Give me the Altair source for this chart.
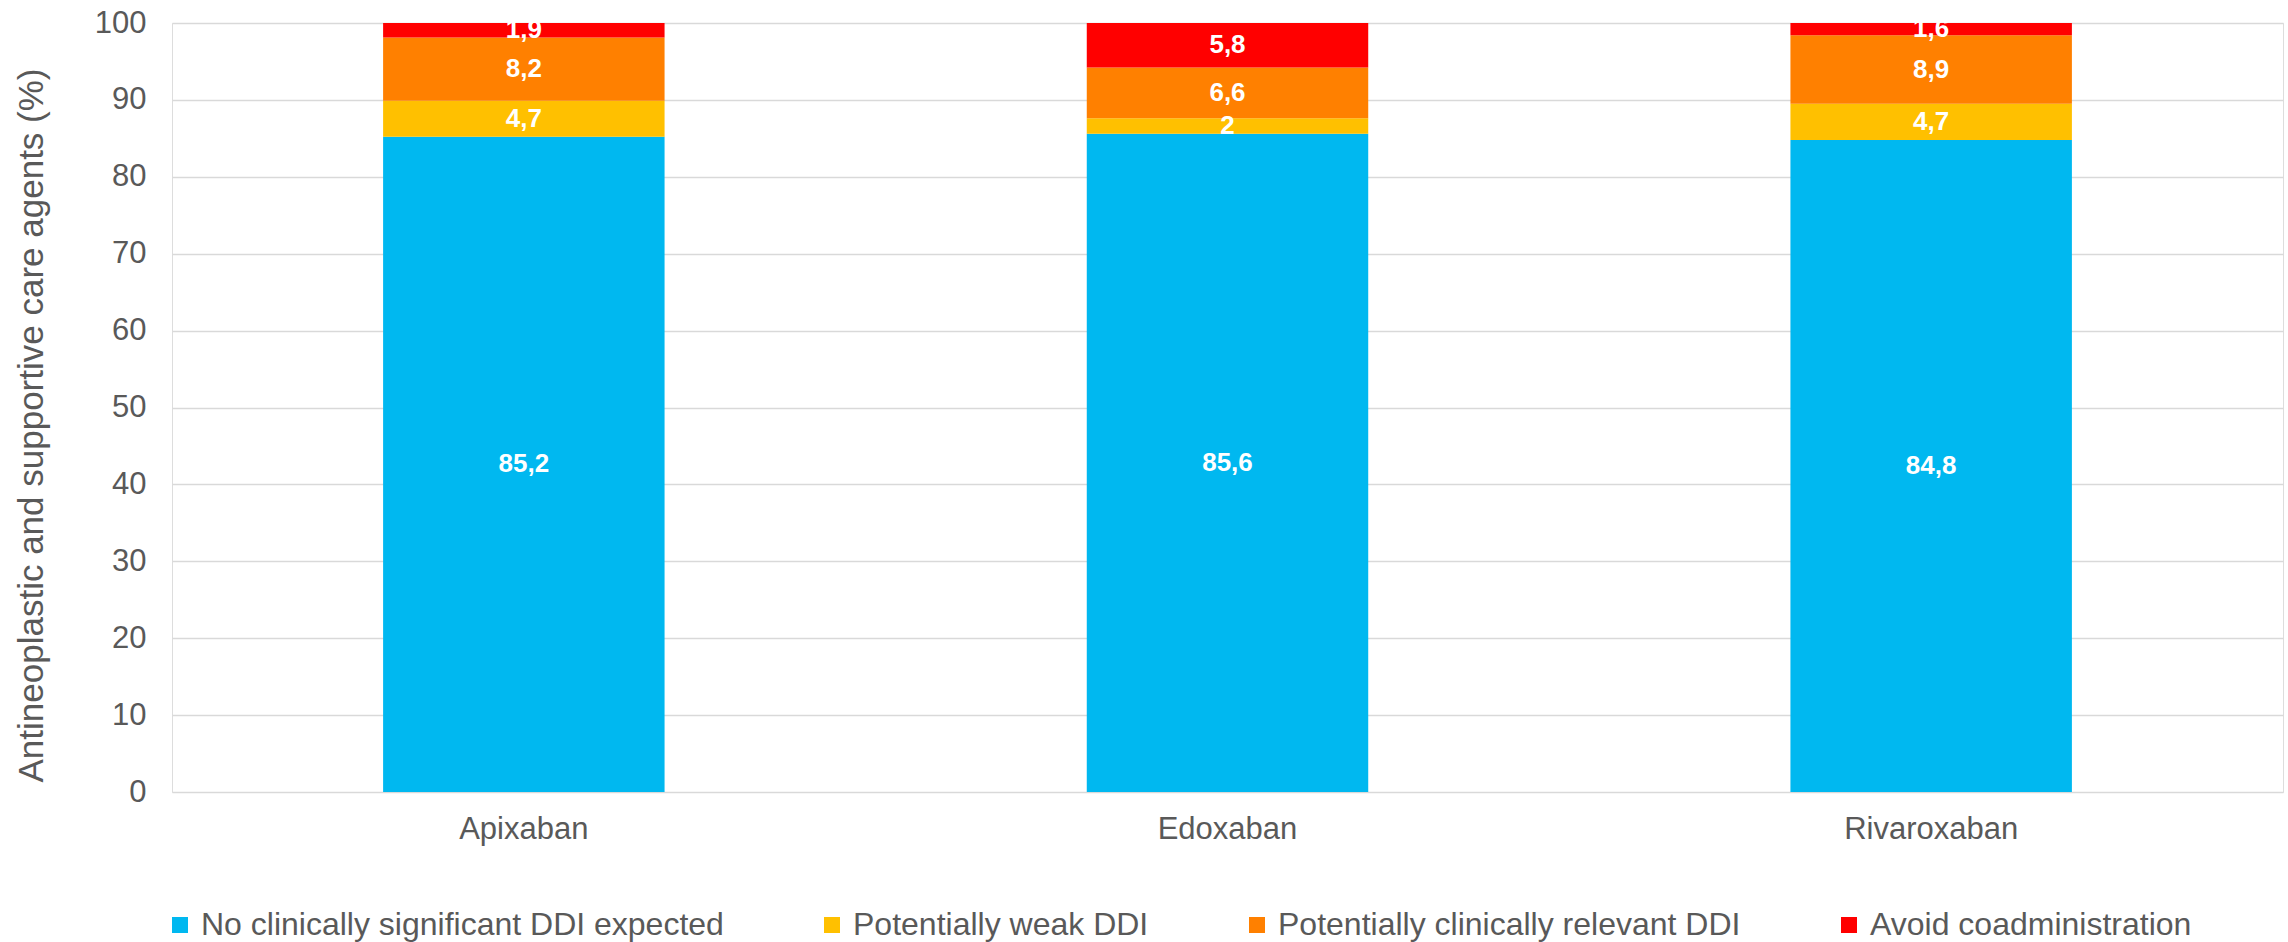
import altair as alt
import pandas as pd

drugs = ["Apixaban", "Edoxaban", "Rivaroxaban"]
categories = [
    "No clinically significant DDI expected",
    "Potentially weak DDI",
    "Potentially clinically relevant DDI",
    "Avoid coadministration",
]
colors = ["#00B8F0", "#FFC000", "#FF8000", "#FF0000"]
no_ddi = [85.2, 85.6, 84.8]
weak = [4.7, 2.0, 4.7]
relevant = [8.2, 6.6, 8.9]
avoid = [1.9, 5.8, 1.6]
labels = {
    0: ["85,2", "85,6", "84,8"],
    1: ["4,7", "2", "4,7"],
    2: ["8,2", "6,6", "8,9"],
    3: ["1,9", "5,8", "1,6"],
}

rows = []
for ci, series in enumerate([no_ddi, weak, relevant, avoid]):
    for di, d in enumerate(drugs):
        rows.append({"drug": d, "category": categories[ci], "order": ci,
                     "value": series[di], "label": labels[ci][di]})
df = pd.DataFrame(rows)

FONT = "Liberation Sans"
GRAY = "#595959"

x_enc = alt.X("drug:N", sort=drugs,
              scale=alt.Scale(paddingInner=0.6, paddingOuter=0.3),
              axis=alt.Axis(title=None, labelAngle=0, labelFontSize=31, labelColor=GRAY,
                            labelFont=FONT, ticks=False, domain=False, labelPadding=22,
                            grid=False))

base = alt.Chart(df).transform_stack(
    stack="value", as_=["y0", "y1"], groupby=["drug"],
    sort=[alt.SortField("order", order="ascending")]
)

bars = base.mark_bar().encode(
    x=x_enc,
    y=alt.Y("y0:Q", scale=alt.Scale(domain=[0, 100], nice=False),
            axis=alt.Axis(title="Antineoplastic and supportive care agents (%)",
                          values=list(range(0, 101, 10)), labelFontSize=31,
                          labelColor=GRAY, labelFont=FONT, ticks=False, domain=False,
                          labelPadding=26, gridColor="#D9D9D9", gridWidth=1.5,
                          titleFont=FONT, titleFontSize=35, titleColor=GRAY,
                          titleFontWeight="normal", titleAngle=270,
                          titleX=-141, titleY=402, titleAlign="center",
                          titleBaseline="middle")),
    y2="y1:Q",
    color=alt.Color("category:N", sort=categories,
                    scale=alt.Scale(domain=categories, range=colors),
                    legend=alt.Legend(title=None, orient="none", legendX=-8, legendY=886,
                                      direction="horizontal", columns=4,
                                      symbolType="square", symbolSize=256,
                                      symbolStrokeWidth=0, labelFontSize=32,
                                      labelFont=FONT, labelColor=GRAY, labelOffset=5,
                                      columnPadding=92, padding=0, labelLimit=800)),
)

text = base.transform_calculate(mid="(datum.y0 + datum.y1) / 2").mark_text(
    color="white", fontWeight="bold", fontSize=26, font=FONT, baseline="middle"
).encode(
    x=alt.X("drug:N", sort=drugs),
    y=alt.Y("mid:Q"),
    text="label:N",
)

chart = alt.layer(bars, text).properties(
    width=2111, height=769,
    autosize=alt.AutoSizeParams(type="none"),
    padding={"left": 172, "top": 23, "right": 5, "bottom": 150},
).configure_view(stroke=None).configure(background="white")

chart.save("out.html", embed_options={"renderer": "svg", "actions": False})
